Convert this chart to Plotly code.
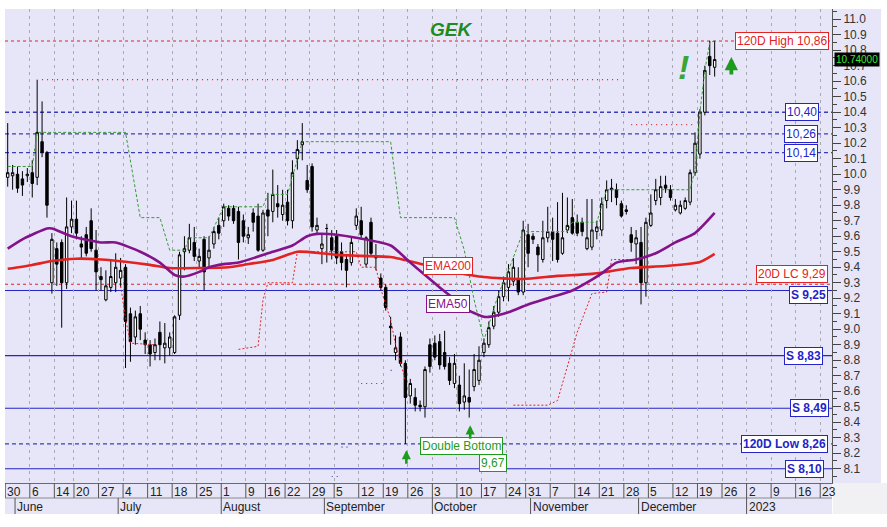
import pandas as pd
import plotly.graph_objects as go

# ---------------- calendar (trading days, incl. empty future part of the axis) ----------------
non_trading = ["2022-06-13", "2022-08-08", "2022-08-15", "2022-10-28"]
trading_days = [d.strftime("%Y-%m-%d") for d in pd.bdate_range("2022-05-30", "2023-01-27")
                if d.strftime("%Y-%m-%d") not in non_trading]
month_names = {6: "June", 7: "July", 8: "August", 9: "September", 10: "October",
               11: "November", 12: "December", 1: "2023"}

# ---------------- daily OHLC (May 30 .. Dec 22, 2022) ----------------
opens = [9.98, 9.99, 10.00, 9.97, 9.99, 10.01, 9.98, 10.21, 10.14, 9.30,
         9.52, 9.56, 9.30, 9.66, 9.71, 9.55, 9.61, 9.70, 9.51, 9.34,
         9.19, 9.27, 9.30, 9.33, 9.40, 9.10, 8.95, 9.10, 8.93, 8.90,
         8.85, 8.98, 8.88, 8.88, 8.85, 9.09, 9.50, 9.51, 9.56, 9.44,
         9.58, 9.46, 9.55, 9.67, 9.70, 9.78, 9.78, 9.76, 9.70, 9.59,
         9.75, 9.73, 9.51, 9.77, 9.76, 9.81, 9.74, 9.82, 9.70, 10.10,
         10.19, 9.96, 10.05, 9.64, 9.52, 9.65, 9.59, 9.60, 9.50, 9.45,
         9.43, 9.67, 9.70, 9.42, 9.69, 9.47, 9.33, 9.27, 9.02, 8.85,
         8.95, 8.78, 8.57, 8.56, 8.51, 8.50, 8.90, 8.91, 8.92, 8.85,
         8.78, 8.65, 8.64, 8.53, 8.56, 8.63, 8.67, 8.85, 8.90, 9.02,
         9.11, 9.21, 9.27, 9.31, 9.32, 9.24, 9.61, 9.60, 9.53, 9.45,
         9.59, 9.63, 9.62, 9.49, 9.64, 9.72, 9.69, 9.69, 9.52, 9.53,
         9.63, 9.64, 9.83, 9.90, 9.90, 9.81, 9.77, 9.61, 9.55, 9.56,
         9.30, 9.67, 9.83, 9.85, 9.93, 9.90, 9.77, 9.75, 9.78, 9.82,
         10.01, 10.13, 10.40, 10.76, 10.69]
highs = [10.33, 10.06, 10.05, 10.02, 10.04, 10.09, 10.61, 10.47, 10.15, 9.62,
         9.56, 9.58, 9.85, 9.83, 9.83, 9.60, 9.66, 9.78, 9.64, 9.40,
         9.38, 9.45, 9.49, 9.46, 9.42, 9.14, 9.12, 9.15, 8.98, 8.93,
         8.94, 9.05, 9.04, 8.98, 9.09, 9.50, 9.60, 9.68, 9.66, 9.52,
         9.60, 9.60, 9.66, 9.72, 9.81, 9.80, 9.80, 9.79, 9.74, 9.66,
         9.78, 9.81, 9.77, 9.88, 10.03, 9.93, 9.90, 9.90, 10.09, 10.22,
         10.33, 10.06, 10.07, 9.72, 9.62, 9.68, 9.64, 9.64, 9.56, 9.48,
         9.60, 9.78, 9.79, 9.60, 9.72, 9.55, 9.36, 9.29, 9.08, 8.96,
         8.98, 8.80, 8.68, 8.62, 8.54, 8.76, 8.94, 8.96, 8.97, 8.99,
         8.82, 8.84, 8.70, 8.78, 8.74, 8.84, 8.89, 8.94, 9.05, 9.15,
         9.25, 9.34, 9.42, 9.46, 9.40, 9.70, 9.68, 9.62, 9.55, 9.70,
         9.79, 9.72, 9.82, 9.88, 9.85, 9.84, 9.74, 9.72, 9.84, 9.84,
         9.70, 9.85, 9.96, 9.97, 9.94, 9.83, 9.80, 9.66, 9.64, 9.66,
         9.72, 9.87, 9.97, 9.99, 9.99, 9.93, 9.84, 9.83, 9.85, 10.03,
         10.27, 10.42, 10.70, 10.86, 10.86]
lows = [9.92, 9.90, 9.88, 9.86, 9.95, 9.85, 9.93, 10.11, 9.72, 9.23,
        9.28, 9.01, 9.26, 9.62, 9.58, 9.46, 9.47, 9.50, 9.25, 9.25,
        9.18, 9.24, 9.24, 9.27, 8.75, 8.79, 8.90, 8.93, 8.84, 8.76,
        8.80, 8.80, 8.78, 8.83, 8.84, 9.06, 9.38, 9.49, 9.44, 9.40,
        9.25, 9.40, 9.52, 9.58, 9.66, 9.70, 9.68, 9.45, 9.56, 9.55,
        9.63, 9.50, 9.50, 9.60, 9.69, 9.72, 9.70, 9.67, 9.65, 10.03,
        10.09, 9.88, 9.63, 9.62, 9.42, 9.43, 9.45, 9.42, 9.38, 9.27,
        9.41, 9.64, 9.58, 9.40, 9.47, 9.38, 9.25, 9.12, 8.90, 8.80,
        8.76, 8.26, 8.52, 8.47, 8.47, 8.43, 8.72, 8.80, 8.74, 8.74,
        8.64, 8.62, 8.47, 8.48, 8.43, 8.60, 8.64, 8.82, 8.88, 9.00,
        9.08, 9.18, 9.18, 9.28, 9.22, 9.22, 9.40, 9.55, 9.37, 9.43,
        9.56, 9.44, 9.43, 9.48, 9.62, 9.61, 9.60, 9.60, 9.51, 9.51,
        9.58, 9.60, 9.78, 9.82, 9.80, 9.72, 9.74, 9.50, 9.42, 9.16,
        9.21, 9.66, 9.80, 9.80, 9.88, 9.83, 9.76, 9.74, 9.77, 9.80,
        9.99, 10.10, 10.38, 10.64, 10.63]
closes = [10.01, 10.01, 9.91, 9.93, 10.00, 9.94, 10.27, 10.14, 9.80, 9.58,
          9.42, 9.30, 9.66, 9.71, 9.62, 9.53, 9.49, 9.52, 9.37, 9.32,
          9.28, 9.34, 9.40, 9.38, 9.05, 8.92, 9.08, 9.00, 8.90, 8.84,
          8.90, 8.90, 8.91, 8.95, 9.08, 9.48, 9.52, 9.59, 9.47, 9.47,
          9.37, 9.51, 9.63, 9.62, 9.79, 9.73, 9.70, 9.56, 9.60, 9.61,
          9.69, 9.51, 9.75, 9.73, 9.87, 9.79, 9.80, 9.70, 10.01, 10.16,
          10.21, 9.90, 9.66, 9.67, 9.55, 9.65, 9.51, 9.46, 9.43, 9.38,
          9.56, 9.73, 9.61, 9.59, 9.49, 9.46, 9.27, 9.14, 9.01, 8.88,
          8.78, 8.56, 8.65, 8.51, 8.50, 8.74, 8.76, 8.82, 8.77, 8.76,
          8.67, 8.78, 8.52, 8.57, 8.53, 8.74, 8.80, 8.91, 9.01, 9.11,
          9.21, 9.30, 9.37, 9.40, 9.24, 9.64, 9.49, 9.58, 9.48, 9.59,
          9.63, 9.58, 9.45, 9.59, 9.67, 9.62, 9.62, 9.63, 9.59, 9.64,
          9.66, 9.81, 9.90, 9.91, 9.85, 9.73, 9.76, 9.56, 9.59, 9.30,
          9.69, 9.75, 9.90, 9.92, 9.91, 9.85, 9.80, 9.80, 9.83, 10.01,
          10.20, 10.40, 10.67, 10.70, 10.74]
last_price = 10.74

# ---------------- indicators ----------------
ema50_dates = ["2022-05-30", "2022-06-02", "2022-06-09", "2022-06-10", "2022-06-17", "2022-06-27",
               "2022-06-30", "2022-07-07", "2022-07-13", "2022-07-18", "2022-07-20", "2022-07-25",
               "2022-07-27", "2022-08-01", "2022-08-04", "2022-08-17", "2022-08-23", "2022-08-26",
               "2022-08-30", "2022-09-05", "2022-09-09", "2022-09-20", "2022-09-26", "2022-09-29",
               "2022-10-04", "2022-10-10", "2022-10-12", "2022-10-17", "2022-10-18", "2022-10-24",
               "2022-10-31", "2022-11-04", "2022-11-11", "2022-11-17", "2022-11-21", "2022-11-24",
               "2022-11-30", "2022-12-06", "2022-12-12", "2022-12-16", "2022-12-22"]
ema50_vals = [9.52, 9.58, 9.65, 9.65, 9.60, 9.56, 9.56, 9.50, 9.43, 9.35, 9.34, 9.37,
              9.40, 9.42, 9.43, 9.50, 9.54, 9.60, 9.615, 9.61, 9.59, 9.54, 9.43, 9.35,
              9.27, 9.17, 9.12, 9.08, 9.08, 9.11, 9.16, 9.20, 9.25, 9.32, 9.36, 9.43,
              9.45, 9.49, 9.56, 9.62, 9.75]

ema200_dates = ["2022-05-30", "2022-06-06", "2022-06-10", "2022-06-20", "2022-06-27", "2022-07-04",
                "2022-07-11", "2022-07-15", "2022-07-25", "2022-08-02", "2022-08-05", "2022-08-17",
                "2022-08-24", "2022-08-31", "2022-09-05", "2022-09-12", "2022-09-20", "2022-09-29",
                "2022-10-10", "2022-10-17", "2022-10-27", "2022-11-08", "2022-11-17", "2022-11-29",
                "2022-12-08", "2022-12-19", "2022-12-22"]
ema200_vals = [9.39, 9.415, 9.44, 9.455, 9.45, 9.435, 9.415, 9.395, 9.395, 9.40, 9.415, 9.447,
               9.50, 9.49, 9.48, 9.473, 9.466, 9.415, 9.363, 9.337, 9.324, 9.344, 9.357, 9.395,
               9.408, 9.434, 9.486]

upper_dates = ["2022-05-30", "2022-06-06", "2022-06-07", "2022-07-04", "2022-07-07", "2022-07-13",
               "2022-07-15", "2022-07-20", "2022-07-21", "2022-07-27", "2022-08-01", "2022-08-12",
               "2022-08-16", "2022-08-22", "2022-08-25", "2022-09-20", "2022-09-22", "2022-10-07",
               "2022-10-11", "2022-10-13", "2022-10-17", "2022-10-18", "2022-10-20", "2022-10-24",
               "2022-10-27", "2022-11-10", "2022-11-11", "2022-11-18", "2022-11-22", "2022-12-15",
               "2022-12-16", "2022-12-19", "2022-12-20", "2022-12-21", "2022-12-22"]
upper_vals = [10.05, 10.05, 10.27, 10.27, 9.72, 9.72, 9.51, 9.51, 9.59, 9.59, 9.79, 9.79,
              9.87, 9.87, 10.21, 10.21, 9.72, 9.72, 9.51, 9.19, 8.93, 9.03, 9.23, 9.38,
              9.63, 9.63, 9.69, 9.69, 9.90, 9.90, 10.03, 10.40, 10.67, 10.85, 10.86]

lower_dates = ["2022-07-01", "2022-07-04", "2022-07-05", "2022-07-12", None,
               "2022-08-04", "2022-08-11", "2022-08-12", "2022-08-16", "2022-08-23", "2022-08-24",
               "2022-09-09", "2022-09-12", "2022-09-15", "2022-09-16", "2022-09-20", "2022-09-21",
               "2022-09-23", None,
               "2022-10-25", "2022-11-04", "2022-11-08", "2022-11-10", "2022-11-14", "2022-11-17",
               "2022-11-22", "2022-11-23", "2022-12-01"]
lower_vals = [9.28, 9.07, 8.91, 8.90, None,
              8.87, 8.89, 9.19, 9.30, 9.30, 9.50,
              9.50, 9.40, 9.40, 9.26, 9.06, 8.90,
              8.67, None,
              8.51, 8.51, 8.54, 8.76, 8.98, 9.23,
              9.24, 9.45, 9.45]

red_dot_dates = ["2022-06-08", "2022-11-25", None, "2022-11-29", "2022-12-16"]
red_dot_vals = [10.61, 10.61, None, 10.32, 10.32]

blue_dot_dates = ["2022-09-02", "2022-09-06", None, "2022-09-06", "2022-09-08", None,
                  "2022-09-12", "2022-09-19", None, "2022-09-20", "2022-09-21"]
blue_dot_vals = [8.05, 8.05, None, 8.24, 8.24, None, 8.65, 8.65, None, 8.735, 8.735]

# ---------------- price levels ----------------
high_120d = 10.86
low_120d = 8.26
lc_20d = 9.29
resist_levels = [10.40, 10.26, 10.14]
resist_labels = ["10,40", "10,26", "10,14"]
support_levels = [9.25, 8.83, 8.49, 8.10]
support_labels = ["S 9,25", "S 8,83", "S 8,49", "S 8,10"]

# ---------------- helpers ----------------
pos = {d: i for i, d in enumerate(trading_days)}


def xs(dates):
    return [pos[d] if d is not None else None for d in dates]


FONT = "Liberation Sans, Arial, sans-serif"
LAV = "#e6e6f8"
BLUE = "#2424c8"
DBLUE = "#3c3cb4"
RED = "#e32222"
PURPLE = "#84128a"
GREEN = "#1f9a1f"

n = len(opens)
cx = list(range(n))

fig = go.Figure()

fig.add_trace(go.Candlestick(
    x=cx, open=opens, high=highs, low=lows, close=closes,
    increasing=dict(line=dict(color="black", width=1), fillcolor="white"),
    decreasing=dict(line=dict(color="black", width=1), fillcolor="black"),
    whiskerwidth=0, hoverinfo="skip", showlegend=False))

fig.add_trace(go.Scatter(x=xs(upper_dates), y=upper_vals, mode="lines",
                         line=dict(color="#3a9a3a", width=1, dash="3px,2px"),
                         hoverinfo="skip", showlegend=False))
fig.add_trace(go.Scatter(x=xs(lower_dates), y=lower_vals, mode="lines",
                         line=dict(color=RED, width=1, dash="2px,2px"),
                         hoverinfo="skip", showlegend=False, connectgaps=False))
fig.add_trace(go.Scatter(x=xs(red_dot_dates), y=red_dot_vals, mode="lines",
                         line=dict(color=RED, width=1.2, dash="1px,4px"),
                         hoverinfo="skip", showlegend=False, connectgaps=False))
fig.add_trace(go.Scatter(x=xs(blue_dot_dates), y=blue_dot_vals, mode="lines",
                         line=dict(color=DBLUE, width=1.2, dash="1px,4px"),
                         hoverinfo="skip", showlegend=False, connectgaps=False))
fig.add_trace(go.Scatter(x=xs(ema200_dates), y=ema200_vals, mode="lines",
                         line=dict(color=RED, width=2.6, shape="spline", smoothing=0.6),
                         hoverinfo="skip", showlegend=False))
fig.add_trace(go.Scatter(x=xs(ema50_dates), y=ema50_vals, mode="lines",
                         line=dict(color=PURPLE, width=2.6, shape="spline", smoothing=0.6),
                         hoverinfo="skip", showlegend=False))

shapes = []
annotations = []


def hline(y, color, dash, width=1.0):
    shapes.append(dict(type="line", xref="paper", x0=0, x1=1, yref="y", y0=y, y1=y,
                       line=dict(color=color, width=width, dash=dash), layer="below"))


hline(high_120d, RED, "3px,3px", 1.1)
for lv in resist_levels:
    hline(lv, DBLUE, "4px,3px", 1.3)
hline(lc_20d, RED, "3px,3px", 1.1)
for lv in support_levels:
    hline(lv, BLUE, "solid", 1.1)
hline(low_120d, DBLUE, "4px,3px", 1.3)


def box_label(text, y, xr, color, bold=False, yanchor="middle", yshift=0, bg="white"):
    t = "<b>%s</b>" % text if bold else text
    annotations.append(dict(text=t, xref="paper", x=xr, xanchor="right", yref="y", y=y,
                            yanchor=yanchor, yshift=yshift, showarrow=False,
                            font=dict(family=FONT, size=12, color=color),
                            bgcolor=bg, bordercolor=color, borderwidth=1, borderpad=1))


box_label("120D High 10,86", high_120d, 0.9964, RED)
for lv, lab, xr in zip(resist_levels, resist_labels, [0.984, 0.983, 0.983]):
    box_label(lab, lv, xr, BLUE)
box_label("20D LC 9,29", lc_20d, 0.995, RED, yanchor="bottom", yshift=1)
for lv, lab, xr, ysh in zip(support_levels, support_labels, [0.995, 0.989, 0.9964, 0.990],
                            [-5, 0, 0, 0]):
    box_label(lab, lv, xr, BLUE, bold=True, yshift=ysh)
box_label("120D Low 8,26", low_120d, 0.995, BLUE, bold=True)

# EMA labels
for text, xv, yv, col in [("EMA200", 89.6, 9.41, RED), ("EMA50", 89.6, 9.165, PURPLE)]:
    annotations.append(dict(text=text, x=xv, y=yv, xref="x", yref="y", showarrow=False,
                            font=dict(family=FONT, size=12, color=col), bgcolor="white",
                            bordercolor=col, borderwidth=1, borderpad=1))

# double bottom
annotations.append(dict(text="Double Bottom", x=92.5, y=8.244, xref="x", yref="y", showarrow=False,
                        font=dict(family=FONT, size=12, color=GREEN), bgcolor="white",
                        bordercolor=GREEN, borderwidth=1, borderpad=1))
annotations.append(dict(text="9,67", x=98.9, y=8.14, xref="x", yref="y", showarrow=False,
                        font=dict(family=FONT, size=12, color=GREEN), bgcolor="white",
                        bordercolor=GREEN, borderwidth=1, borderpad=1))

# arrows
for xv, yv, h, w, s in [(pos["2022-09-23"] + 0.2, 8.22, 15, 2.6, 0.7),
                        (pos["2022-10-12"] + 0.2, 8.38, 15, 2.6, 0.7),
                        (147.4, 10.757, 19, 3.8, 0.7)]:
    annotations.append(dict(text="", x=xv, y=yv, xref="x", yref="y", showarrow=True,
                            ax=0, ay=h, arrowhead=2, arrowsize=s, arrowwidth=w,
                            arrowcolor=GREEN))

annotations.append(dict(text="<b><i>!</i></b>", x=pos["2022-12-14"] - 0.3, y=10.69, xref="x", yref="y",
                        showarrow=False, font=dict(family=FONT, size=34, color="#3aa535")))

# title
annotations.append(dict(text="<b><i>GEK</i></b>", xref="paper", x=0.539, yref="paper", y=0.956,
                        yanchor="middle", showarrow=False,
                        font=dict(family=FONT, size=19, color="#1d8c1d")))

# last price tag
annotations.append(dict(text="10.74000", xref="paper", x=1.0025, xanchor="left", yref="y",
                        y=last_price, showarrow=False, bgcolor="black", borderpad=1,
                        font=dict(family=FONT, size=10, color="#33ee33")))

# ---------------- x axis (two rows drawn by hand) ----------------
week_starts = [i for i, d in enumerate(trading_days)
               if i == 0 or pd.Timestamp(d).isocalendar()[1] != pd.Timestamp(trading_days[i - 1]).isocalendar()[1]]
month_starts = [i for i, d in enumerate(trading_days)
                if i > 0 and pd.Timestamp(d).month != pd.Timestamp(trading_days[i - 1]).month]
week_starts = [k for k in week_starts if k - 0.5 < 167.9]

ROW1 = -15 / 474.0
ROW2 = -31 / 474.0

shapes.append(dict(type="rect", xref="paper", yref="paper", x0=0, x1=1, y0=ROW2, y1=0,
                   fillcolor=LAV, line=dict(width=0), layer="below"))
shapes.append(dict(type="rect", xref="paper", yref="paper", x0=1, x1=1.0593, y0=0, y1=1,
                   fillcolor=LAV, line=dict(width=0), layer="below"))
shapes.append(dict(type="rect", xref="paper", yref="paper", x0=1.001, x1=1.073, y0=ROW2, y1=0,
                   fillcolor="#f1f1f4", line=dict(width=0), layer="below"))
shapes.append(dict(type="line", xref="paper", yref="paper", x0=0, x1=1, y0=ROW1, y1=ROW1,
                   line=dict(color="#8a8a8a", width=1)))

for k in week_starts:
    shapes.append(dict(type="line", xref="x", yref="paper", x0=k - 0.5, x1=k - 0.5, y0=0, y1=ROW1,
                       line=dict(color="#555555", width=1)))
    annotations.append(dict(text=str(pd.Timestamp(trading_days[k]).day), xref="x", x=k - 0.5,
                            xanchor="left", xshift=0, yref="paper", y=-0.0005, yanchor="top",
                            showarrow=False, font=dict(family=FONT, size=12, color="#222222")))
for k in month_starts:
    shapes.append(dict(type="line", xref="x", yref="paper", x0=k - 0.5, x1=k - 0.5, y0=ROW1, y1=ROW2,
                       line=dict(color="#555555", width=1)))
    annotations.append(dict(text=month_names[pd.Timestamp(trading_days[k]).month], xref="x",
                            x=k - 0.5, xanchor="left", xshift=0, yref="paper", y=ROW1 - 0.001,
                            yanchor="top", showarrow=False,
                            font=dict(family=FONT, size=12, color="#222222")))

fig.update_layout(
    width=887, height=527,
    margin=dict(l=5, r=55, t=9, b=44),
    paper_bgcolor="white", plot_bgcolor=LAV,
    font=dict(family=FONT, size=12, color="#333333"),
    showlegend=False,
    shapes=shapes, annotations=annotations,
    xaxis=dict(range=[-0.55, 167.9], rangeslider=dict(visible=False), tickmode="array",
               tickvals=[k - 0.5 for k in week_starts], showticklabels=False, ticks="",
               showgrid=True, gridcolor="#a9a9b4", gridwidth=1, griddash="3px,4px",
               zeroline=False, showline=True, linecolor="#6a6a6a", linewidth=1),
    yaxis=dict(side="right", range=[8.008, 11.066], dtick=0.1, tick0=8.0, tickformat=".1f",
               ticks="outside", ticklen=8, tickcolor="#444444", tickwidth=1,
               minor=dict(dtick=0.05, ticks="outside", ticklen=4, tickcolor="#444444", showgrid=False),
               showgrid=False, zeroline=False, showline=True, linecolor="#555555", linewidth=1,
               tickfont=dict(family=FONT, size=12, color="#333333")),
)

fig.write_html("out.html", config={"displayModeBar": False},
               post_script="document.body.style.margin='0px';")
